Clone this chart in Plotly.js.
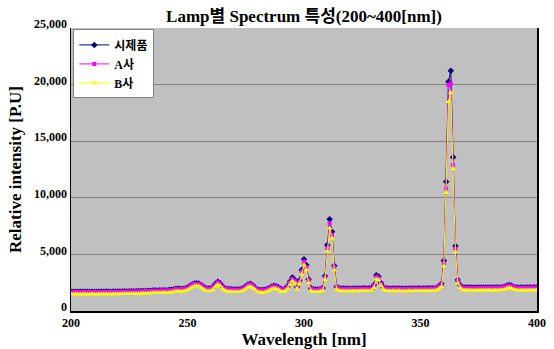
<!DOCTYPE html>
<html>
<head>
<meta charset="utf-8">
<script src="https://cdn.plot.ly/plotly-3.0.1.min.js"></script>
<style>html,body{margin:0;padding:0;background:#fff;}#chart{width:554px;height:349px;}</style>
</head>
<body>
<div id="chart"></div>
<script>
// Wavelength grid: 200..400 nm, 1 nm step
const wlStart = 200, wlEnd = 400, wlStep = 1;
const seriesNames = ["시제품", "A사", "B사"];

const prototype = [
1700,1700,1710,1700,1700,1710,1700,1700,1710,1700,
1710,1700,1710,1720,1710,1720,1720,1710,1720,1730,
1720,1730,1730,1740,1730,1740,1750,1740,1750,1760,
1760,1770,1770,1780,1790,1820,1830,1820,1830,1840,
1840,1830,1850,1870,1900,1960,1980,1940,1960,1990,
2080,2200,2330,2430,2460,2410,2280,2120,2020,1980,
2000,2150,2400,2580,2450,2180,2020,1960,1940,1920,
1910,1900,1920,1950,2030,2190,2340,2400,2280,2080,
1910,1860,1850,1870,1930,2030,2150,2220,2190,2100,
1960,1900,2000,2200,2600,2950,2750,2150,2700,3620,
4570,4060,2800,2000,1920,1900,1900,1950,2030,3090,
5830,8100,7000,4000,2150,2000,1990,1980,1990,1980,
1970,1980,1990,1980,1990,2000,2000,1990,2000,2010,
2300,3150,3050,2500,2150,2000,1990,1980,1990,1980,
1990,1990,1980,1970,1980,1990,1980,1990,1990,2000,
1990,2000,1990,2000,2010,2000,2020,2050,2200,2400,
4440,11420,20260,21230,13580,5740,2740,2300,2100,2080,
2070,2080,2070,2060,2070,2080,2070,2080,2080,2070,
2080,2070,2080,2090,2080,2100,2150,2220,2300,2250,
2130,2090,2080,2070,2080,2070,2080,2090,2080,2090,
2100];

const companyA = [
1670,1680,1670,1680,1670,1680,1670,1680,1680,1670,
1680,1670,1680,1690,1680,1690,1690,1680,1690,1700,
1690,1700,1700,1710,1700,1710,1720,1710,1720,1730,
1730,1740,1740,1750,1760,1790,1800,1790,1800,1810,
1810,1800,1820,1840,1870,1930,1950,1910,1930,1960,
2050,2170,2300,2390,2420,2370,2240,2090,1990,1950,
1970,2110,2360,2530,2410,2150,1990,1930,1910,1890,
1880,1870,1890,1920,2000,2150,2300,2360,2240,2050,
1880,1830,1820,1840,1900,2000,2120,2180,2150,2070,
1930,1870,1970,2150,2520,2830,2660,2100,2600,3450,
4360,3880,2700,1960,1890,1870,1870,1920,2000,2960,
5550,7760,6720,3850,2100,1970,1960,1950,1960,1950,
1940,1950,1960,1950,1960,1970,1970,1960,1970,1980,
2250,3020,2920,2420,2110,1970,1960,1950,1960,1950,
1960,1960,1950,1940,1950,1960,1950,1960,1960,1970,
1960,1970,1960,1970,1980,1970,1990,2020,2160,2340,
4210,10840,19960,20110,12900,5480,2650,2250,2070,2050,
2040,2050,2040,2030,2040,2050,2040,2050,2050,2040,
2050,2040,2050,2060,2050,2070,2110,2180,2250,2200,
2100,2060,2050,2040,2050,2040,2050,2060,2050,2060,
2070];

const companyB = [
1500,1490,1500,1500,1490,1500,1500,1490,1500,1500,
1500,1490,1500,1510,1500,1510,1510,1500,1510,1520,
1510,1520,1520,1530,1520,1530,1540,1530,1540,1550,
1550,1560,1560,1570,1580,1610,1620,1610,1620,1630,
1630,1620,1640,1660,1690,1750,1770,1730,1750,1780,
1860,1980,2100,2200,2230,2180,2060,1910,1810,1770,
1790,1930,2170,2330,2210,1960,1810,1750,1730,1710,
1700,1690,1710,1740,1810,1970,2110,2170,2060,1870,
1700,1650,1640,1660,1720,1810,1930,2000,1970,1890,
1750,1690,1780,1970,2340,2650,2470,1930,2400,3250,
4070,3620,2500,1790,1710,1690,1690,1740,1820,2780,
5250,7320,6430,3620,1930,1790,1780,1770,1780,1770,
1760,1770,1780,1770,1780,1790,1790,1780,1790,1800,
2050,2830,2750,2250,1930,1790,1780,1770,1780,1770,
1780,1780,1770,1760,1770,1780,1770,1780,1780,1790,
1780,1790,1780,1790,1800,1790,1810,1840,1980,2150,
3980,10450,18490,19280,12520,5240,2450,2050,1870,1850,
1840,1850,1840,1830,1840,1850,1840,1850,1850,1840,
1850,1840,1850,1860,1850,1870,1910,1980,2050,2000,
1900,1860,1850,1840,1850,1840,1850,1860,1850,1860,
1870];

const xTicks = [200, 250, 300, 350, 400];
const xTickText = ["200", "250", "300", "350", "400"];
const yTicks = [0, 5000, 10000, 15000, 20000, 25000];
const yTickText = ["0", "5,000", "10,000", "15,000", "20,000", "25,000"];

const wavelengths = [];
for (let w = wlStart; w <= wlEnd; w += wlStep) wavelengths.push(w);

const serif = "Liberation Serif, Times New Roman, Noto Sans CJK KR, serif";
const bold = s => "<b>" + s + "</b>";

const traces = [
  {x: wavelengths, y: prototype, name: bold(seriesNames[0]), type: "scatter", mode: "lines+markers",
   line: {color: "#000080", width: 1}, marker: {symbol: "diamond", size: 5, color: "#000080"}},
  {x: wavelengths, y: companyA, name: bold(seriesNames[1]), type: "scatter", mode: "lines+markers",
   line: {color: "#FF00FF", width: 1}, marker: {symbol: "square", size: 4, color: "#FF00FF"}},
  {x: wavelengths, y: companyB, name: bold(seriesNames[2]), type: "scatter", mode: "lines+markers",
   line: {color: "#FFFF00", width: 1}, marker: {symbol: "triangle-up", size: 5, color: "#FFFF00"}}
];

const layout = {
  width: 554, height: 349,
  margin: {l: 71, r: 17, t: 28, b: 38, pad: 0},
  paper_bgcolor: "#ffffff",
  plot_bgcolor: "#C0C0C0",
  showlegend: true,
  title: {text: bold("Lamp별 Spectrum 특성(200~400[nm])"), font: {family: serif, size: 17, color: "#000"},
          xref: "paper", x: 0.5, xanchor: "center", y: 0.955, yanchor: "middle"},
  xaxis: {range: [200, 400], tickvals: xTicks, ticktext: xTickText.map(bold), showgrid: false, zeroline: false,
          showline: true, linecolor: "#000", linewidth: 2, ticks: "",
          tickfont: {family: serif, size: 12, color: "#000"},
          title: {text: bold("Wavelength [nm]"), font: {family: serif, size: 17, color: "#000"}, standoff: 3}},
  yaxis: {range: [0, 25000], tickvals: yTicks, ticktext: yTickText.map(bold), showgrid: true, gridcolor: "#7f7f7f", gridwidth: 1,
          zeroline: false, showline: true, mirror: true, linecolor: "#000", linewidth: 1.5, ticks: "", ticklabelshift: -4,
          tickfont: {family: serif, size: 12, color: "#000"},
          title: {text: bold("Relative intensity [P.U]"), font: {family: serif, size: 17, color: "#000"}, standoff: 8}},
  legend: {x: 0.005, y: 0.995, xanchor: "left", yanchor: "top", bgcolor: "#ffffff",
           bordercolor: "#808080", borderwidth: 1, itemwidth: 30, tracegroupgap: 0,
           font: {family: serif, size: 12, color: "#000"}}
};

Plotly.newPlot("chart", traces, layout, {displayModeBar: false, staticPlot: true});
</script>
</body>
</html>
